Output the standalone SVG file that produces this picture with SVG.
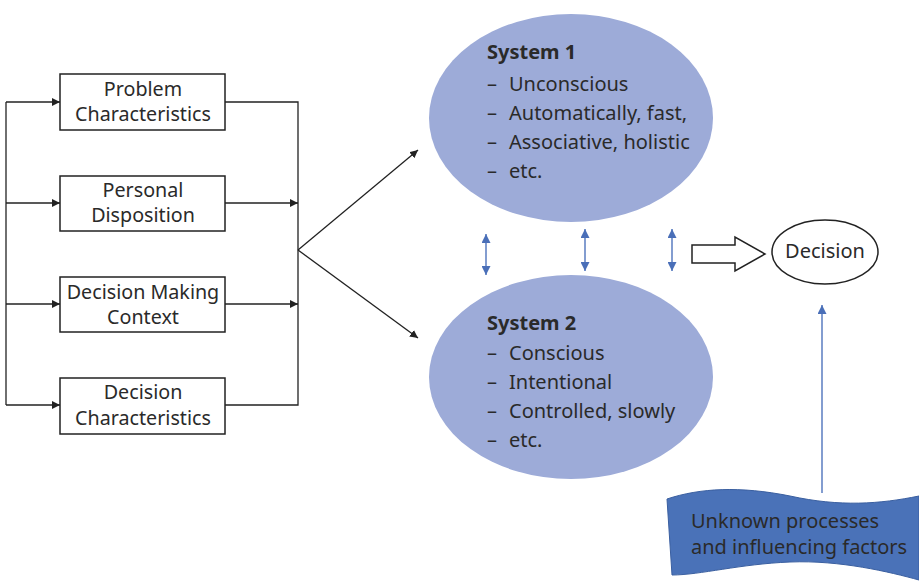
<svg xmlns="http://www.w3.org/2000/svg" width="919" height="584" viewBox="0 0 919 584">
<defs>
<style>
text{font-family:"Noto Sans","Open Sans",sans-serif;font-size:20px;fill:#2a2a2a}
.bx{font-size:19.7px}
.box{fill:#fff;stroke:#222;stroke-width:1.5}
.ln{fill:none;stroke:#222;stroke-width:1.3}
.bl{fill:none;stroke:#5a7cc0;stroke-width:1.5}
.sys{fill:#9dabd8}
.c{text-anchor:middle}
</style>
<marker id="ah" viewBox="0 0 10 10" refX="10" refY="5" markerWidth="8" markerHeight="8" markerUnits="userSpaceOnUse" orient="auto"><path d="M0,0L10,5L0,10z" fill="#222"/></marker>
<marker id="ab" viewBox="0 0 10 10" refX="10" refY="5" markerWidth="9" markerHeight="9" markerUnits="userSpaceOnUse" orient="auto-start-reverse"><path d="M0,0L10,5L0,10z" fill="#4a6fb8"/></marker>
</defs>
<g id="connectors">
<path class="ln" d="M6,102V405"/>
<path class="ln" marker-end="url(#ah)" d="M6,102H60"/>
<path class="ln" marker-end="url(#ah)" d="M6,203H60"/>
<path class="ln" marker-end="url(#ah)" d="M6,304H60"/>
<path class="ln" marker-end="url(#ah)" d="M6,405H60"/>
<path class="ln" d="M225,102H298V405H225"/>
<path class="ln" marker-end="url(#ah)" d="M225,203H298"/>
<path class="ln" marker-end="url(#ah)" d="M225,304H298"/>
<path class="ln" marker-end="url(#ah)" d="M298,250L418,150"/>
<path class="ln" marker-end="url(#ah)" d="M298,250L418,338"/>
<path class="bl" marker-start="url(#ab)" marker-end="url(#ab)" d="M486,234V275"/>
<path class="bl" marker-start="url(#ab)" marker-end="url(#ab)" d="M585,229V271"/>
<path class="bl" marker-start="url(#ab)" marker-end="url(#ab)" d="M672,229V271"/>
<path class="bl" marker-end="url(#ab)" d="M822,493V305"/>
<path d="M692,245H735V237L765,254L735,271V263H692z" fill="#fff" stroke="#222" stroke-width="1.5"/>
</g>
<g id="n1"><rect class="box" x="60" y="74" width="165" height="56"/><text class="c bx" x="143" y="96">Problem</text><text class="c bx" x="143" y="121">Characteristics</text></g>
<g id="n2"><rect class="box" x="60" y="176" width="165" height="55"/><text class="c bx" x="143" y="197">Personal</text><text class="c bx" x="143" y="222">Disposition</text></g>
<g id="n3"><rect class="box" x="60" y="277" width="165" height="55"/><text class="c bx" x="143" y="299">Decision Making</text><text class="c bx" x="143" y="324">Context</text></g>
<g id="n4"><rect class="box" x="60" y="378" width="165" height="56"/><text class="c bx" x="143" y="399">Decision</text><text class="c bx" x="143" y="425">Characteristics</text></g>
<g id="system1"><ellipse class="sys" cx="571" cy="118" rx="142" ry="104"/>
<text x="487" y="59" font-weight="bold">System 1</text>
<text x="487" y="91">–</text><text x="509" y="91">Unconscious</text>
<text x="487" y="120">–</text><text x="509" y="120">Automatically, fast,</text>
<text x="487" y="149">–</text><text x="509" y="149">Associative, holistic</text>
<text x="487" y="178">–</text><text x="509" y="178">etc.</text>
</g>
<g id="system2"><ellipse class="sys" cx="571" cy="377" rx="142" ry="102"/>
<text x="487" y="330" font-weight="bold">System 2</text>
<text x="487" y="360">–</text><text x="509" y="360">Conscious</text>
<text x="487" y="389">–</text><text x="509" y="389">Intentional</text>
<text x="487" y="418">–</text><text x="509" y="418">Controlled, slowly</text>
<text x="487" y="447">–</text><text x="509" y="447">etc.</text>
</g>
<g id="decision"><ellipse cx="825" cy="252" rx="53" ry="32" fill="#fff" stroke="#222" stroke-width="1.5"/><text class="c" x="825" y="258">Decision</text></g>
<g id="unknown"><path d="M667,499C700,488 740,486 790,496C840,507 880,504 919,496V580C890,572 840,560 790,562C740,564 700,575 672,575z" fill="#4a72b8" stroke="#3a5fa0" stroke-width="1"/>
<text x="691" y="528">Unknown processes</text><text x="691" y="554">and influencing factors</text></g>
</svg>
